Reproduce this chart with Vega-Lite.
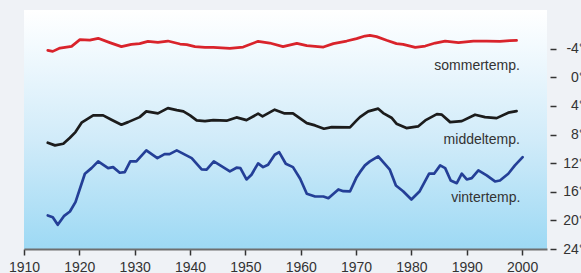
{
  "$schema": "https://vega.github.io/schema/vega-lite/v6.json",
  "width": 523,
  "height": 239,
  "autosize": {"type": "none"},
  "padding": {"left": 24, "top": 10, "right": 34, "bottom": 24},
  "background": "#eff2f6",
  "config": {
    "font": "Liberation Sans",
    "axis": {"labelOverlap": false},
    "view": {
      "stroke": null,
      "fill": {
        "gradient": "linear",
        "x1": 0, "y1": 0, "x2": 0, "y2": 1,
        "stops": [
          {"offset": 0, "color": "#ffffff"},
          {"offset": 0.15, "color": "#f3fafe"},
          {"offset": 0.55, "color": "#d0ebf9"},
          {"offset": 1, "color": "#9dd9f4"}
        ]
      }
    }
  },
  "layer": [
    {
      "data": {
        "values": [
          {"series": "sommer", "year": 1914.3, "value": -3.76},
          {"series": "sommer", "year": 1915.2, "value": -3.62},
          {"series": "sommer", "year": 1916.5, "value": -4.08},
          {"series": "sommer", "year": 1918.6, "value": -4.32},
          {"series": "sommer", "year": 1920.1, "value": -5.26},
          {"series": "sommer", "year": 1921.9, "value": -5.2},
          {"series": "sommer", "year": 1923.4, "value": -5.44},
          {"series": "sommer", "year": 1925.5, "value": -4.84},
          {"series": "sommer", "year": 1927.6, "value": -4.28},
          {"series": "sommer", "year": 1929.4, "value": -4.6},
          {"series": "sommer", "year": 1930.9, "value": -4.7},
          {"series": "sommer", "year": 1932.4, "value": -5.02},
          {"series": "sommer", "year": 1934.2, "value": -4.88},
          {"series": "sommer", "year": 1936.0, "value": -5.06},
          {"series": "sommer", "year": 1938.2, "value": -4.64},
          {"series": "sommer", "year": 1939.4, "value": -4.56},
          {"series": "sommer", "year": 1940.9, "value": -4.28},
          {"series": "sommer", "year": 1942.7, "value": -4.18},
          {"series": "sommer", "year": 1944.2, "value": -4.18},
          {"series": "sommer", "year": 1947.2, "value": -4.04},
          {"series": "sommer", "year": 1949.6, "value": -4.22},
          {"series": "sommer", "year": 1952.3, "value": -5.02},
          {"series": "sommer", "year": 1954.4, "value": -4.78},
          {"series": "sommer", "year": 1956.8, "value": -4.28},
          {"series": "sommer", "year": 1959.3, "value": -4.74},
          {"series": "sommer", "year": 1961.1, "value": -4.42},
          {"series": "sommer", "year": 1964.1, "value": -4.22},
          {"series": "sommer", "year": 1965.9, "value": -4.7},
          {"series": "sommer", "year": 1968.3, "value": -5.06},
          {"series": "sommer", "year": 1970.1, "value": -5.4},
          {"series": "sommer", "year": 1971.6, "value": -5.76},
          {"series": "sommer", "year": 1972.5, "value": -5.86},
          {"series": "sommer", "year": 1973.7, "value": -5.68},
          {"series": "sommer", "year": 1975.5, "value": -5.16},
          {"series": "sommer", "year": 1977.3, "value": -4.7},
          {"series": "sommer", "year": 1978.5, "value": -4.6},
          {"series": "sommer", "year": 1980.7, "value": -4.18},
          {"series": "sommer", "year": 1982.5, "value": -4.36},
          {"series": "sommer", "year": 1984.3, "value": -4.78},
          {"series": "sommer", "year": 1986.1, "value": -5.06},
          {"series": "sommer", "year": 1988.5, "value": -4.84},
          {"series": "sommer", "year": 1991.2, "value": -5.06},
          {"series": "sommer", "year": 1993.6, "value": -5.06},
          {"series": "sommer", "year": 1996.0, "value": -5.02},
          {"series": "sommer", "year": 1997.8, "value": -5.12},
          {"series": "sommer", "year": 1999.0, "value": -5.16},

          {"series": "middel", "year": 1914.3, "value": 9.15},
          {"series": "middel", "year": 1915.6, "value": 9.52},
          {"series": "middel", "year": 1917.1, "value": 9.29},
          {"series": "middel", "year": 1918.3, "value": 8.45},
          {"series": "middel", "year": 1919.3, "value": 7.66},
          {"series": "middel", "year": 1920.4, "value": 6.35},
          {"series": "middel", "year": 1922.5, "value": 5.33},
          {"series": "middel", "year": 1924.3, "value": 5.33},
          {"series": "middel", "year": 1925.8, "value": 5.93},
          {"series": "middel", "year": 1927.6, "value": 6.63},
          {"series": "middel", "year": 1928.8, "value": 6.27},
          {"series": "middel", "year": 1930.9, "value": 5.57},
          {"series": "middel", "year": 1932.1, "value": 4.77},
          {"series": "middel", "year": 1934.2, "value": 5.05},
          {"series": "middel", "year": 1936.0, "value": 4.31},
          {"series": "middel", "year": 1937.6, "value": 4.59},
          {"series": "middel", "year": 1938.8, "value": 4.77},
          {"series": "middel", "year": 1940.0, "value": 5.33},
          {"series": "middel", "year": 1941.2, "value": 6.03},
          {"series": "middel", "year": 1942.7, "value": 6.13},
          {"series": "middel", "year": 1944.2, "value": 5.99},
          {"series": "middel", "year": 1946.6, "value": 6.07},
          {"series": "middel", "year": 1948.4, "value": 5.61},
          {"series": "middel", "year": 1950.2, "value": 5.99},
          {"series": "middel", "year": 1952.3, "value": 5.09},
          {"series": "middel", "year": 1953.1, "value": 5.47},
          {"series": "middel", "year": 1955.3, "value": 4.53},
          {"series": "middel", "year": 1957.1, "value": 5.05},
          {"series": "middel", "year": 1958.6, "value": 5.05},
          {"series": "middel", "year": 1961.1, "value": 6.41},
          {"series": "middel", "year": 1962.6, "value": 6.73},
          {"series": "middel", "year": 1964.2, "value": 7.19},
          {"series": "middel", "year": 1965.6, "value": 6.97},
          {"series": "middel", "year": 1968.9, "value": 7.01},
          {"series": "middel", "year": 1970.1, "value": 6.03},
          {"series": "middel", "year": 1970.7, "value": 5.57},
          {"series": "middel", "year": 1971.6, "value": 5.09},
          {"series": "middel", "year": 1972.2, "value": 4.77},
          {"series": "middel", "year": 1974.0, "value": 4.39},
          {"series": "middel", "year": 1974.9, "value": 5.01},
          {"series": "middel", "year": 1976.4, "value": 5.65},
          {"series": "middel", "year": 1977.3, "value": 6.49},
          {"series": "middel", "year": 1979.1, "value": 7.1},
          {"series": "middel", "year": 1981.2, "value": 6.87},
          {"series": "middel", "year": 1982.5, "value": 6.03},
          {"series": "middel", "year": 1984.6, "value": 5.15},
          {"series": "middel", "year": 1985.5, "value": 5.23},
          {"series": "middel", "year": 1987.0, "value": 6.27},
          {"series": "middel", "year": 1989.1, "value": 6.13},
          {"series": "middel", "year": 1991.5, "value": 5.23},
          {"series": "middel", "year": 1993.3, "value": 5.57},
          {"series": "middel", "year": 1995.4, "value": 5.71},
          {"series": "middel", "year": 1997.5, "value": 4.95},
          {"series": "middel", "year": 1999.0, "value": 4.73},

          {"series": "vinter", "year": 1914.3, "value": 19.31},
          {"series": "vinter", "year": 1915.2, "value": 19.55},
          {"series": "vinter", "year": 1916.1, "value": 20.62},
          {"series": "vinter", "year": 1917.2, "value": 19.41},
          {"series": "vinter", "year": 1918.3, "value": 18.76},
          {"series": "vinter", "year": 1919.3, "value": 17.45},
          {"series": "vinter", "year": 1921.0, "value": 13.48},
          {"series": "vinter", "year": 1922.2, "value": 12.7},
          {"series": "vinter", "year": 1923.4, "value": 11.76},
          {"series": "vinter", "year": 1925.2, "value": 12.7},
          {"series": "vinter", "year": 1926.1, "value": 12.56},
          {"series": "vinter", "year": 1927.3, "value": 13.34},
          {"series": "vinter", "year": 1928.2, "value": 13.26},
          {"series": "vinter", "year": 1929.2, "value": 11.76},
          {"series": "vinter", "year": 1930.3, "value": 11.76},
          {"series": "vinter", "year": 1932.1, "value": 10.22},
          {"series": "vinter", "year": 1934.1, "value": 11.3},
          {"series": "vinter", "year": 1935.4, "value": 10.74},
          {"series": "vinter", "year": 1936.3, "value": 10.74},
          {"series": "vinter", "year": 1937.6, "value": 10.22},
          {"series": "vinter", "year": 1940.3, "value": 11.3},
          {"series": "vinter", "year": 1942.1, "value": 12.88},
          {"series": "vinter", "year": 1943.0, "value": 12.92},
          {"series": "vinter", "year": 1944.3, "value": 11.76},
          {"series": "vinter", "year": 1947.2, "value": 13.16},
          {"series": "vinter", "year": 1948.4, "value": 12.64},
          {"series": "vinter", "year": 1949.1, "value": 12.7},
          {"series": "vinter", "year": 1950.2, "value": 14.28},
          {"series": "vinter", "year": 1951.1, "value": 13.62},
          {"series": "vinter", "year": 1952.3, "value": 12.04},
          {"series": "vinter", "year": 1953.2, "value": 12.56},
          {"series": "vinter", "year": 1954.1, "value": 12.22},
          {"series": "vinter", "year": 1955.3, "value": 10.83},
          {"series": "vinter", "year": 1956.1, "value": 10.46},
          {"series": "vinter", "year": 1957.3, "value": 12.08},
          {"series": "vinter", "year": 1958.6, "value": 12.56},
          {"series": "vinter", "year": 1959.9, "value": 14.18},
          {"series": "vinter", "year": 1961.1, "value": 16.28},
          {"series": "vinter", "year": 1962.6, "value": 16.66},
          {"series": "vinter", "year": 1964.1, "value": 16.66},
          {"series": "vinter", "year": 1965.0, "value": 16.9},
          {"series": "vinter", "year": 1966.8, "value": 15.68},
          {"series": "vinter", "year": 1967.7, "value": 15.92},
          {"series": "vinter", "year": 1968.9, "value": 15.96},
          {"series": "vinter", "year": 1970.1, "value": 13.96},
          {"series": "vinter", "year": 1970.7, "value": 13.26},
          {"series": "vinter", "year": 1971.6, "value": 12.32},
          {"series": "vinter", "year": 1972.5, "value": 11.76},
          {"series": "vinter", "year": 1974.0, "value": 11.06},
          {"series": "vinter", "year": 1976.1, "value": 12.92},
          {"series": "vinter", "year": 1977.2, "value": 15.12},
          {"series": "vinter", "year": 1978.5, "value": 15.92},
          {"series": "vinter", "year": 1980.0, "value": 17.08},
          {"series": "vinter", "year": 1981.5, "value": 15.92},
          {"series": "vinter", "year": 1983.2, "value": 13.48},
          {"series": "vinter", "year": 1984.1, "value": 13.48},
          {"series": "vinter", "year": 1985.2, "value": 12.32},
          {"series": "vinter", "year": 1986.1, "value": 12.7},
          {"series": "vinter", "year": 1987.1, "value": 14.42},
          {"series": "vinter", "year": 1988.2, "value": 14.8},
          {"series": "vinter", "year": 1989.1, "value": 13.48},
          {"series": "vinter", "year": 1990.0, "value": 14.28},
          {"series": "vinter", "year": 1990.9, "value": 14.1},
          {"series": "vinter", "year": 1992.1, "value": 13.02},
          {"series": "vinter", "year": 1993.6, "value": 13.72},
          {"series": "vinter", "year": 1995.1, "value": 14.56},
          {"series": "vinter", "year": 1996.0, "value": 14.42},
          {"series": "vinter", "year": 1997.5, "value": 13.48},
          {"series": "vinter", "year": 1998.7, "value": 12.32},
          {"series": "vinter", "year": 2000.1, "value": 11.16}
        ]
      },
      "mark": {"type": "line", "strokeWidth": 2.7, "strokeJoin": "round", "strokeCap": "round"},
      "encoding": {
        "x": {
          "field": "year", "type": "quantitative",
          "scale": {"domain": [1910, 2004.5], "nice": false, "zero": false},
          "axis": {
            "title": null, "orient": "bottom",
            "values": [1910, 1920, 1930, 1940, 1950, 1960, 1970, 1980, 1990, 2000],
            "tickCount": 20,
            "format": "d", "grid": false,
            "domainColor": "#6e6e6e", "domainWidth": 2,
            "tickColor": "#333333", "tickSize": 6, "tickWidth": 1.5,
            "labelFontSize": 14, "labelColor": "#333333", "labelPadding": 5,
            "labelFont": "Liberation Sans", "labelOverlap": false, "labelFlush": false
          }
        },
        "y": {
          "field": "value", "type": "quantitative",
          "scale": {"domain": [-9.4, 24], "reverse": true, "nice": false, "zero": false},
          "axis": {
            "title": null, "orient": "right", "offset": 3,
            "values": [-4, 0, 4, 8, 12, 16, 20, 24],
            "tickCount": 20,
            "labelExpr": "datum.value + '°'",
            "grid": false,
            "domain": false,
            "tickColor": "#333333", "tickSize": 6, "tickWidth": 1.5,
            "labelFontSize": 14, "labelColor": "#333333",
            "labelAlign": "right", "labelPadding": 28, "labelBaseline": "middle",
            "labelFont": "Liberation Sans", "labelOverlap": false, "labelFlush": false, "labelBound": false
          }
        },
        "color": {
          "field": "series", "type": "nominal",
          "scale": {"domain": ["sommer", "middel", "vinter"], "range": ["#d9232b", "#1c1c1c", "#243f97"]},
          "legend": null
        }
      }
    },
    {
      "mark": {"type": "rule", "color": "#444444", "strokeWidth": 1.5, "xOffset": 3, "clip": false},
      "encoding": {
        "x": {"datum": 2004.5, "type": "quantitative"},
        "y": {"datum": -7.5, "type": "quantitative"},
        "y2": {"datum": 24}
      }
    },
    {
      "data": {
        "values": [
          {"label": "sommertemp.", "year": 1999.6, "value": -1.0},
          {"label": "middeltemp.", "year": 1999.6, "value": 9.3},
          {"label": "vintertemp.", "year": 1999.7, "value": 17.5}
        ]
      },
      "mark": {"type": "text", "align": "right", "baseline": "alphabetic", "fontSize": 14, "font": "Liberation Sans", "color": "#333333"},
      "encoding": {
        "x": {"field": "year", "type": "quantitative"},
        "y": {"field": "value", "type": "quantitative"},
        "text": {"field": "label"}
      }
    }
  ]
}
